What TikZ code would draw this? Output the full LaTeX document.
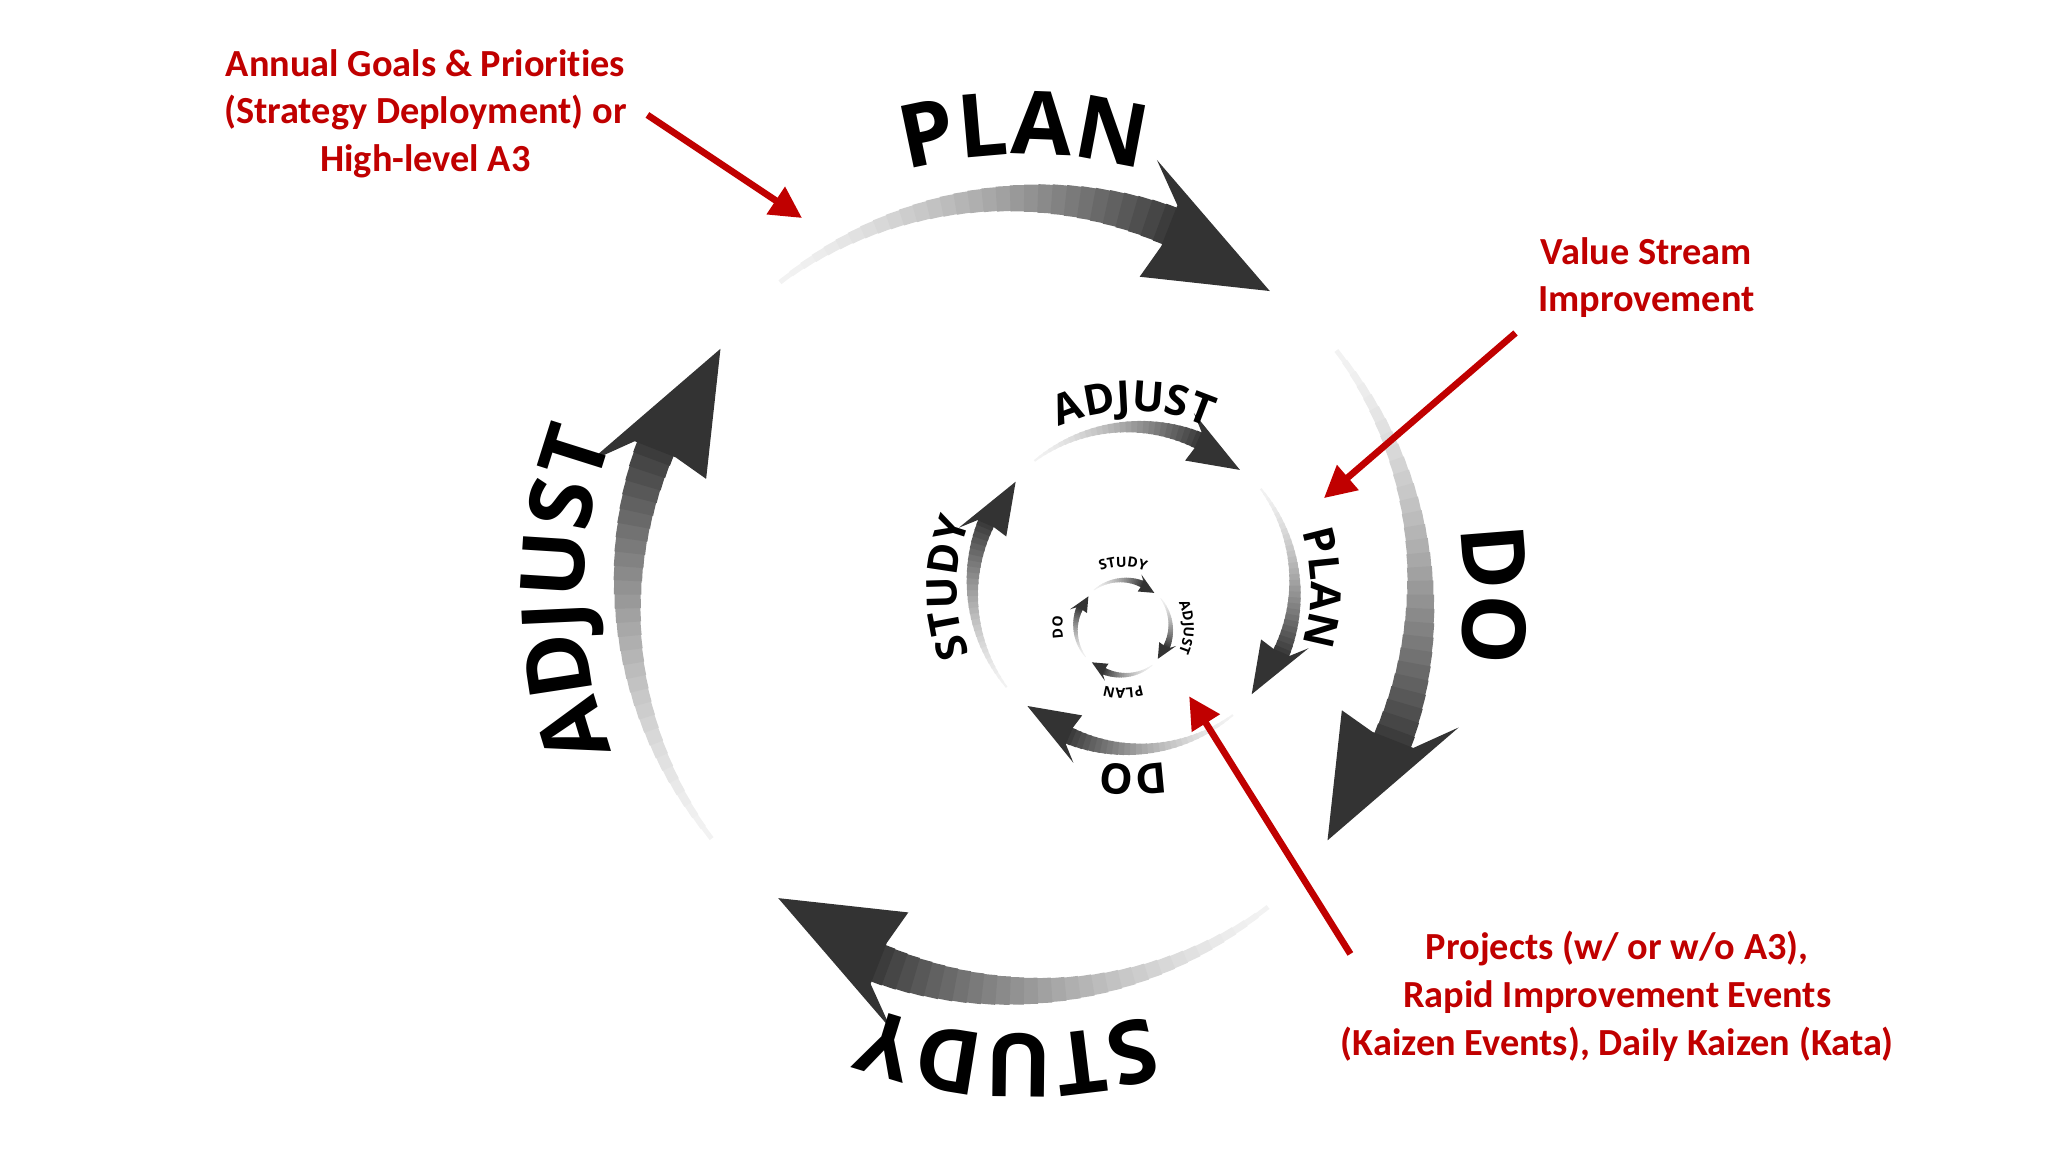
\documentclass[tikz,border=0pt]{standalone}
\usepackage{fontspec}
\setmainfont[Ligatures={NoCommon}]{Carlito}
\newfontfamily\lblfont{Open Sans}
\usetikzlibrary{decorations.text,arrows.meta}
\definecolor{annred}{RGB}{192,0,0}
\newcommand{\garrow}[8]{%
 \foreach \i in {0,...,29}{%
  \pgfmathsetmacro{\aa}{#4+(#5-#4)*\i/30}%
  \pgfmathsetmacro{\bb}{#4+(#5-#4)*(\i+1.4)/30}%
  \pgfmathsetmacro{\ww}{0.12*#7+0.88*#7*(\i/30)}%
  \pgfmathsetmacro{\cc}{5+75*(\i/30)^1.5}%
  \draw[line width=\ww pt, draw=black!\cc] (#1,#2)++(\aa:#3) arc[start angle=\aa, end angle=\bb, radius=#3];
 }%
 \fill[black!80,shift={(#1,#2)}] ({#5+0.5}:{#3+#8*0.38}) -- ({#5+5}:{#3+#8}) -- ({#6}:{#3-0.1*#8}) -- ({#5+2}:{#3-#8}) -- ({#5+0.5}:{#3-#8*0.38}) -- cycle;
}
\newcommand{\arclabel}[6]{%
 \path[decorate,decoration={text along path,text align=center,text={|#6|#5}}]
   (#1,#2)++({#4+45}:#3) arc[start angle={#4+45}, end angle={#4-45}, radius=#3];
}
\tikzset{
 anntext/.style={text=annred,font=\bfseries\fontsize{10.9}{13.6}\selectfont,align=center},
 annarrow/.style={draw=annred,line width=1.9pt,-{Triangle[length=9pt,width=9pt]}}
}
\begin{document}
\begin{tikzpicture}[x=0.013213cm,y=0.013213cm]
\useasboundingbox (0,0) rectangle (1550,872);
% outer ring
\foreach \t in {128,38,-52,-142}{
  \garrow{775}{422}{300}{\t}{\t-60}{\t-77}{11.5}{44}
}
\arclabel{775}{422}{333}{90}{PLAN}{\lblfont\bfseries\fontsize{25}{25}\selectfont}
\arclabel{775}{422}{333}{0}{DO}{\lblfont\bfseries\fontsize{25}{25}\selectfont}
\arclabel{775}{422}{333}{-92}{STUDY}{\lblfont\bfseries\fontsize{25}{25}\selectfont}
\arclabel{775}{422}{333}{180}{ADJUST}{\lblfont\bfseries\fontsize{25}{25}\selectfont}
% middle ring
\foreach \t in {128,38,-52,-142}{
  \garrow{858}{427}{122}{\t}{\t-62}{\t-80}{5}{18}
}
\arclabel{858}{427}{134}{90}{ADJUST}{\lblfont\bfseries\fontsize{12}{12}\selectfont}
\arclabel{858}{427}{134}{0}{PLAN}{\lblfont\bfseries\fontsize{12}{12}\selectfont}
\arclabel{858}{427}{134}{-90}{DO}{\lblfont\bfseries\fontsize{12}{12}\selectfont}
\arclabel{858}{427}{134}{180}{STUDY}{\lblfont\bfseries\fontsize{12}{12}\selectfont}
% inner ring
\foreach \t in {128,38,-52,-142}{
  \garrow{850}{397}{36}{\t}{\t-62}{\t-80}{2}{6.5}
}
\arclabel{850}{397}{46}{90}{STUDY}{\lblfont\bfseries\fontsize{4}{4}\selectfont}
\arclabel{850}{397}{46}{0}{ADJUST}{\lblfont\bfseries\fontsize{4}{4}\selectfont}
\arclabel{850}{397}{46}{-90}{PLAN}{\lblfont\bfseries\fontsize{4}{4}\selectfont}
\arclabel{850}{397}{46}{180}{DO}{\lblfont\bfseries\fontsize{4}{4}\selectfont}
% annotations
\node[anntext] (t1) at (322,786) {Annual Goals \& Priorities\\(Strategy Deployment) or\\High-level A3};
\node[anntext] (t2) at (1246,662) {Value Stream\\Improvement};
\node[anntext] (t3) at (1224,118) {Projects (w/ or w/o A3),\\Rapid Improvement Events\\(Kaizen Events), Daily Kaizen (Kata)};
\coordinate (a1s) at (490,785); \coordinate (a1e) at (607,707);
\coordinate (a2s) at (1147,620); \coordinate (a2e) at (1002,495);
\coordinate (a3s) at (1022,150); \coordinate (a3e) at (900,345);
\draw[annarrow] (a1s) -- (a1e);
\draw[annarrow] (a2s) -- (a2e);
\draw[annarrow] (a3s) -- (a3e);
\end{tikzpicture}
\end{document}
